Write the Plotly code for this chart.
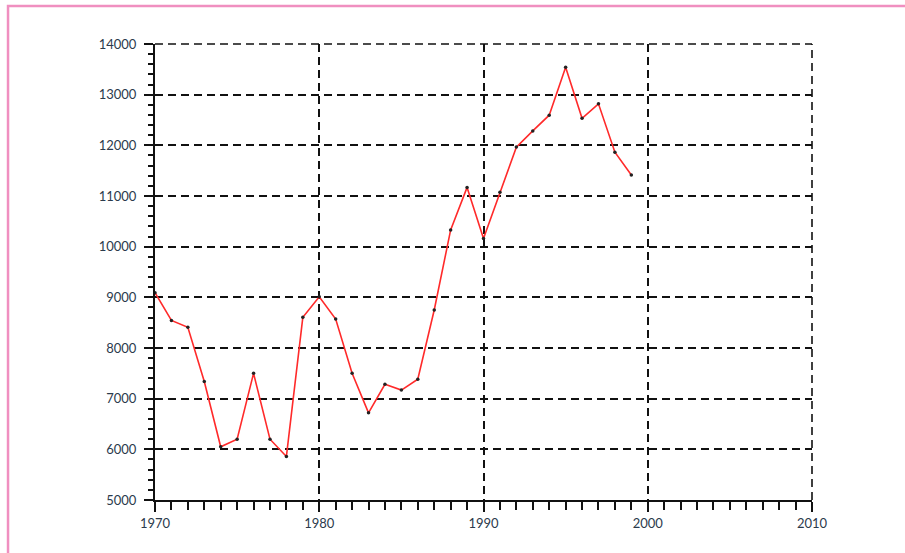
import plotly.graph_objects as go

# Annual series, 1970-1999
years = list(range(1970, 2000))
values = [
    9090, 8545, 8410, 7340, 6050, 6200, 7500, 6200, 5860, 8605,
    9010, 8570, 7500, 6720, 7285, 7170, 7385, 8750, 10330, 11170,
    10160, 11075, 11965, 12285, 12595, 13540, 12535, 12820, 11865, 11415,
]

x_range = [1970, 2010]
y_range = [5000, 14000]
x_ticks = [1970, 1980, 1990, 2000, 2010]
y_ticks = [5000, 6000, 7000, 8000, 9000, 10000, 11000, 12000, 13000, 14000]
x_labels = [str(v) for v in x_ticks]
y_labels = [str(v) for v in y_ticks]

label_font = dict(family="Lato, 'Open Sans', sans-serif", size=13, color="#2b3a4c")
grid_dash = "8px,5px"
grid_color = "#111"

fig = go.Figure()
fig.add_trace(go.Scatter(
    x=years, y=values,
    mode="lines+markers",
    line=dict(color="#ff2a2a", width=1.6),
    marker=dict(color="#222222", size=3.5),
    hoverinfo="x+y",
    showlegend=False,
))

fig.update_layout(
    width=905, height=553,
    margin=dict(l=155, r=93, t=44, b=53),
    paper_bgcolor="white",
    plot_bgcolor="white",
    xaxis=dict(
        range=x_range,
        tickvals=x_ticks, ticktext=x_labels,
        ticks="outside", ticklen=10, tickwidth=2, tickcolor=grid_color,
        showline=True, linecolor=grid_color, linewidth=2,
        showgrid=True, gridcolor=grid_color, gridwidth=1.6, griddash=grid_dash,
        zeroline=False,
        tickfont=label_font,
        minor=dict(dtick=1, tick0=1970, ticks="outside", ticklen=8,
                   tickwidth=2, tickcolor=grid_color, showgrid=False),
    ),
    yaxis=dict(
        range=y_range,
        tickvals=y_ticks, ticktext=y_labels,
        ticks="outside", ticklen=9, tickwidth=2, tickcolor=grid_color,
        ticklabelstandoff=5,
        showline=True, linecolor=grid_color, linewidth=2,
        showgrid=True, gridcolor=grid_color, gridwidth=1.6, griddash=grid_dash,
        zeroline=False,
        tickfont=label_font,
        minor=dict(dtick=200, tick0=5000, ticks="outside", ticklen=5,
                   tickwidth=2, tickcolor=grid_color, showgrid=False),
    ),
    shapes=[
        # pink frame around the figure
        dict(type="rect", xref="paper", yref="paper",
             x0=-0.2237, x1=1.3, y0=-0.3, y1=1.0833,
             line=dict(color="#f08fc0", width=2.5), fillcolor="rgba(0,0,0,0)",
             layer="below"),
        # dashed grid lines along the top and right edges of the plot area
        dict(type="line", xref="paper", yref="paper",
             x0=0, x1=1, y0=1, y1=1,
             line=dict(color=grid_color, width=1.6, dash=grid_dash), layer="below"),
        dict(type="line", xref="paper", yref="paper",
             x0=1, x1=1, y0=0, y1=1,
             line=dict(color=grid_color, width=1.6, dash=grid_dash), layer="below"),
    ],
)

fig.write_html("out.html")
